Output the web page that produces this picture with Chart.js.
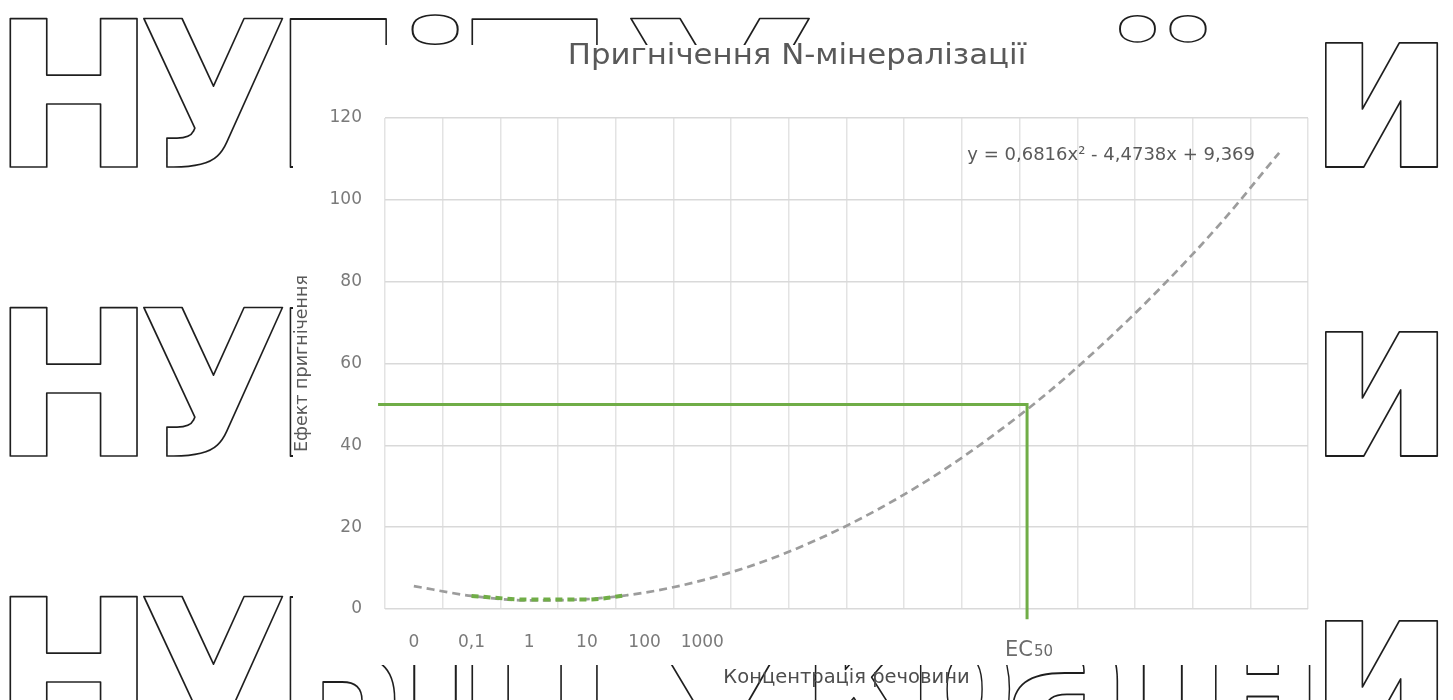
<!DOCTYPE html>
<html>
<head>
<meta charset="utf-8">
<script src="https://cdn.jsdelivr.net/npm/chart.js@4.4.1/dist/chart.umd.min.js"></script>
<style>
html, body { margin: 0; padding: 0; background: #fff; }
#wrap { position: relative; width: 1453px; height: 700px; }
</style>
</head>
<body>
<div id="wrap"><canvas id="chart" width="1453" height="700"></canvas></div>
<script>
// x axis categories (only the first six carry a label)
const xLabels = ["0", "0,1", "1", "10", "100", "1000", "", "", "", "", "", "", "", "", "", ""];
const yTicks = [0, 20, 40, 60, 80, 100, 120];

// polynomial trendline at every category
const trendX = [1, 2, 3, 4, 5, 6, 7, 8, 9, 10, 11, 12, 13, 14, 15, 16];
const trendY = [5.6, 3.2, 2.1, 2.4, 4.0, 7.0, 11.3, 17.0, 24.0, 32.3, 42.0, 53.0, 65.5, 79.3, 94.5, 111.5];

// green dashed part near the minimum
const lowX = [2, 3, 4, 4.7];
const lowY = [3.2, 2.3, 2.3, 3.4];

// EC50 guide: 50 % effect
const ec50X = 11.63;
const ec50LineX = [0.38, 11.63, 11.63];
const ec50LineY = [50, 50, -2.5];

const chartTitle = "Пригнічення N-мінералізації";
const equation = "y = 0,6816x² - 4,4738x + 9,369";

const FONT = "'DejaVu Sans', sans-serif";
Chart.defaults.font.family = FONT;
Chart.defaults.color = "#7a7a7a";

const toPoints = (xs, ys) => xs.map((x, i) => ({ x, y: ys[i] }));

// watermark "НУБіП України" behind the chart
const markGlyphs = ["Н", "У", "Б", "і", "П", "У", "к", "р", "а", "ї", "н", "и"];
const markLeft  = [10, 143, 290, 412, 472, 630, 815, 920, 1012, 1120, 1215, 1325];
const markRight = [138, 283, 395, 458, 598, 810, 915, 1010, 1118, 1207, 1310, 1438];
const markTop   = [19, 19, 19, 15, 19, 19, 52, 52, 52, 15, 52, 42];
const markBaselines = [167, 456, 745];

function drawWatermark(ctx) {
    ctx.strokeStyle = "#1e1e1e";
    ctx.lineJoin = "round";
    markBaselines.forEach((base) => {
        markGlyphs.forEach((ch, i) => {
            // dotted letters look better with round dots
            ctx.font = (ch === "і" || ch === "ї") ? "bold 200px 'Open Sans'" : "bold 200px 'DejaVu Sans'";
            const m = ctx.measureText(ch);
            const inkW = m.actualBoundingBoxLeft + m.actualBoundingBoxRight;
            const sx = (markRight[i] - markLeft[i]) / inkW;
            const sy = (markBaselines[0] - markTop[i]) / m.actualBoundingBoxAscent;
            ctx.save();
            ctx.translate(markLeft[i], base);
            ctx.scale(sx, sy);
            ctx.lineWidth = 1.7 / Math.sqrt(sx * sy);
            ctx.strokeText(ch, m.actualBoundingBoxLeft, 0);
            ctx.restore();
        });
    });
}

const decor = {
    id: "decor",
    beforeDraw(chart) {
        const ctx = chart.ctx;
        ctx.save();
        ctx.fillStyle = "#fff";
        ctx.fillRect(0, 0, chart.width, chart.height);
        drawWatermark(ctx);
        // white chart box over the watermark
        ctx.fillStyle = "#fff";
        ctx.fillRect(293, 45, 1025, 620);
        ctx.restore();
    },
    afterDraw(chart) {
        const ctx = chart.ctx;
        const { xv, y } = chart.scales;
        const area = chart.chartArea;
        ctx.save();
        // title, a little wider than the plain font
        ctx.font = "28px " + FONT;
        ctx.fillStyle = "#595959";
        ctx.textAlign = "center";
        ctx.textBaseline = "middle";
        ctx.translate(797, 57);
        ctx.scale(1.1, 1);
        ctx.fillText(chartTitle, 0, 0);
        ctx.setTransform(1, 0, 0, 1, 0, 0);
        // trendline equation
        ctx.font = "18px " + FONT;
        ctx.fillStyle = "#595959";
        ctx.textAlign = "right";
        ctx.textBaseline = "alphabetic";
        ctx.fillText(equation, area.right - 53, y.getPixelForValue(120) + 42);
        // EC50 label under the axis
        const ex = xv.getPixelForValue(ec50X) - 22;
        const ey = y.getPixelForValue(0) + 47;
        ctx.textAlign = "left";
        ctx.fillStyle = "#6b6b6b";
        ctx.font = "21px " + FONT;
        ctx.fillText("EC", ex, ey);
        const w = ctx.measureText("EC").width;
        ctx.font = "15px " + FONT;
        ctx.fillText("50", ex + w + 1, ey);
        ctx.restore();
    }
};

new Chart(document.getElementById("chart"), {
    type: "line",
    data: {
        labels: xLabels,
        datasets: [
            {
                label: "EC50",
                data: toPoints(ec50LineX, ec50LineY),
                xAxisID: "xv",
                borderColor: "#70ad47",
                borderWidth: 3,
                pointRadius: 0,
                tension: 0,
                clip: false
            },
            {
                label: "Дані",
                data: toPoints(lowX, lowY),
                xAxisID: "xv",
                borderColor: "#70ad47",
                borderWidth: 4,
                borderDash: [7, 5],
                pointRadius: 0,
                cubicInterpolationMode: "monotone"
            },
            {
                label: "Тренд",
                data: toPoints(trendX, trendY),
                xAxisID: "xv",
                borderColor: "#9c9c9c",
                borderWidth: 2.7,
                borderDash: [8, 5],
                pointRadius: 0,
                cubicInterpolationMode: "monotone"
            }
        ]
    },
    options: {
        responsive: false,
        devicePixelRatio: 1,
        animation: false,
        layout: { padding: { left: 280, right: 145, top: 118, bottom: 6 } },
        plugins: {
            legend: { display: false },
            tooltip: { enabled: false },
            title: { display: false }
        },
        scales: {
            x: {
                type: "category",
                offset: true,
                grid: { offset: true, color: "#e3e3e3", lineWidth: 1.5, drawTicks: false },
                border: { display: false },
                ticks: { font: { size: 17 }, padding: 23, autoSkip: false, maxRotation: 0 },
                title: {
                    display: true,
                    text: "Концентрація речовини",
                    color: "#4d4d4d",
                    font: { size: 19.5 },
                    padding: { top: 0, bottom: 4 }
                },
                afterFit: (scale) => { scale.height = 85; }
            },
            xv: {
                type: "linear",
                display: false,
                min: 0.5,
                max: 16.5
            },
            y: {
                min: 0,
                max: 120,
                grid: { color: "#d9d9d9", lineWidth: 1.5, drawTicks: false },
                border: { display: false },
                ticks: { font: { size: 17 }, padding: 23 },
                afterBuildTicks: (scale) => { scale.ticks = yTicks.map(v => ({ value: v })); },
                title: {
                    display: true,
                    text: "Ефект пригнічення",
                    color: "#595959",
                    font: { size: 17.5 },
                    padding: { top: 12, bottom: 0 }
                },
                afterFit: (scale) => { scale.width = 105; }
            }
        }
    },
    plugins: [decor]
});
</script>
</body>
</html>
